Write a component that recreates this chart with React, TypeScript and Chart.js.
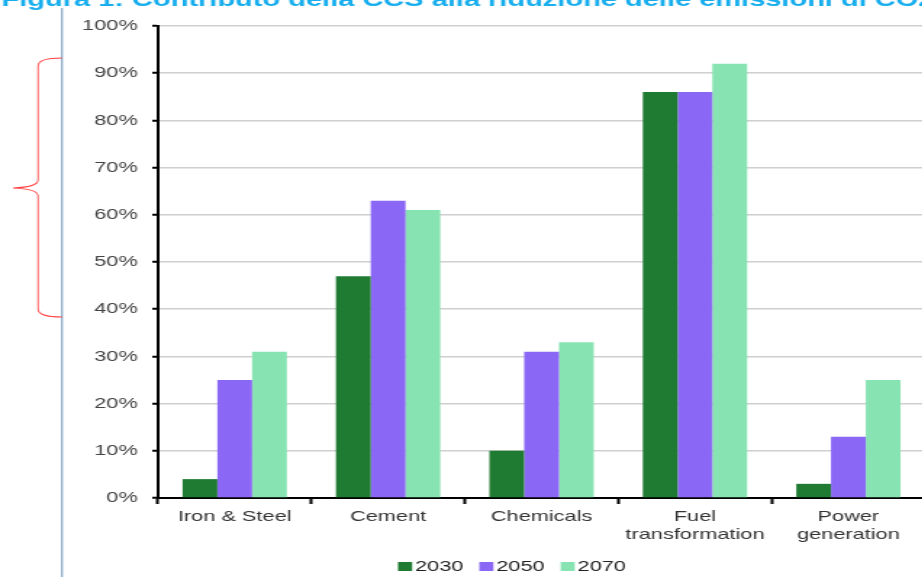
import { useEffect, useRef } from "react";
import { Chart, registerables } from "chart.js";

Chart.register(...registerables);

// ---- data ----
const categories: (string | string[])[] = [
  "Iron & Steel",
  "Cement",
  "Chemicals",
  ["Fuel", "transformation"],
  ["Power", "generation"],
];
const seriesLabels = ["2030", "2050", "2070"];
const values2030 = [4, 47, 10, 86, 3];
const values2050 = [25, 63, 31, 86, 13];
const values2070 = [31, 61, 33, 92, 25];
const yMin = 0;
const yMax = 100;
const yStep = 10;
const titleText = "Figura 1: Contributo della CCS alla riduzione delle emissioni di CO2";

// ---- styling ----
const S = 1.45; // horizontal stretch of the reference picture
const W = Math.round(925 / S);
const H = 577;
const colors = ["#1f7a32", "#8b67f5", "#88e3b3"];
const FONT = '"Liberation Sans", Arial, Helvetica, sans-serif';

const overlayPlugin = {
  id: "overlay",
  afterDraw(chart: any) {
    const ctx: CanvasRenderingContext2D = chart.ctx;
    // cut-off title
    ctx.save();
    ctx.font = `bold 20px ${FONT}`;
    ctx.fillStyle = "#18aeee";
    ctx.textBaseline = "alphabetic";
    ctx.textAlign = "left";
    ctx.fillText(titleText, 1, 6);
    ctx.restore();

    // custom legend (stretched like the rest)
    ctx.save();
    ctx.font = `15px ${FONT}`;
    ctx.textBaseline = "alphabetic";
    ctx.textAlign = "left";
    const box = 9.7;
    const gap = 2;
    const spacing = 11;
    const ds = chart.data.datasets;
    const widths = ds.map((d: any) => box + gap + ctx.measureText(d.label).width);
    const total = widths.reduce((a: number, b: number) => a + b, 0) + spacing * (ds.length - 1);
    let x = 512 / S - total / 2;
    ds.forEach((d: any, i: number) => {
      ctx.fillStyle = d.backgroundColor;
      ctx.fillRect(x, 562, box, 9);
      ctx.fillStyle = "#222";
      ctx.fillText(d.label, x + box + gap, 571);
      x += widths[i] + spacing;
    });
    ctx.restore();

    // unstretched overlay marks (blue line and red brace)
    ctx.save();
    ctx.scale(1 / S, 1);
    ctx.strokeStyle = "#6a94b9";
    ctx.lineWidth = 1.5;
    ctx.beginPath();
    ctx.moveTo(62, 8);
    ctx.lineTo(62, 577);
    ctx.stroke();

    ctx.strokeStyle = "#ff4040";
    ctx.lineWidth = 1.2;
    ctx.beginPath();
    ctx.moveTo(62, 58);
    ctx.quadraticCurveTo(38, 58, 38, 66);
    ctx.lineTo(38, 180);
    ctx.quadraticCurveTo(38, 187, 13, 188);
    ctx.quadraticCurveTo(38, 189, 38, 196);
    ctx.lineTo(38, 309);
    ctx.quadraticCurveTo(38, 317, 62, 317);
    ctx.stroke();
    ctx.restore();
  },
};

export default function App() {
  const canvasRef = useRef<HTMLCanvasElement | null>(null);

  useEffect(() => {
    if (!canvasRef.current) return;
    const seriesValues = [values2030, values2050, values2070];
    const chart = new Chart(canvasRef.current, {
      type: "bar",
      data: {
        labels: categories,
        datasets: seriesLabels.map((label, i) => ({
          label,
          data: seriesValues[i],
          backgroundColor: colors[i],
          borderWidth: 0,
          barPercentage: 1,
          categoryPercentage: 0.68,
        })),
      },
      options: {
        animation: false,
        responsive: false,
        devicePixelRatio: 1,
        layout: { padding: { top: 26, left: 0, right: 0, bottom: 0 } },
        plugins: {
          legend: { display: false },
          title: { display: false },
          tooltip: { enabled: false },
        },
        scales: {
          x: {
            afterFit(scale: any) {
              scale.height = 79;
            },
            border: { color: "#000", width: 2 },
            grid: {
              offset: true,
              drawOnChartArea: false,
              tickLength: 6,
              tickColor: "#000",
              tickWidth: 2,
            },
            ticks: {
              font: { family: FONT, size: 15 },
              color: "#333",
              padding: 4,
              maxRotation: 0,
              autoSkip: false,
            },
          },
          y: {
            min: yMin,
            max: yMax,
            afterFit(scale: any) {
              scale.width = 158 / S;
            },
            border: { color: "#000", width: 2 },
            grid: {
              color: "#cfcfcf",
              lineWidth: 1.5,
              tickColor: "#000",
              tickWidth: 2,
              tickLength: 4,
            },
            ticks: {
              stepSize: yStep,
              font: { family: FONT, size: 15 },
              color: "#444",
              padding: 10,
              callback: (v: any) => `${v}%`,
            },
          },
        },
      },
      plugins: [overlayPlugin],
    });
    return () => chart.destroy();
  }, []);

  return (
    <div
      style={{
        position: "fixed",
        left: 0,
        top: 0,
        width: 922,
        height: 577,
        overflow: "hidden",
        background: "#fff",
      }}
    >
      <canvas
        ref={canvasRef}
        width={W}
        height={H}
        style={{
          display: "block",
          width: W,
          height: H,
          transform: `scaleX(${S})`,
          transformOrigin: "0 0",
        }}
      />
    </div>
  );
}
